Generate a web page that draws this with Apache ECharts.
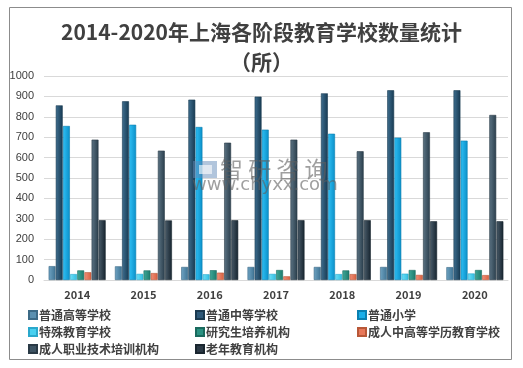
<!DOCTYPE html>
<html><head><meta charset="utf-8">
<script src="https://cdn.jsdelivr.net/npm/echarts@6/dist/echarts.min.js"></script>
<style>html,body{margin:0;padding:0;background:#fff}#c{width:523px;height:368px}</style>
</head><body><div id="c"></div>
<script>
var years = ['2014','2015','2016','2017','2018','2019','2020'];
var seriesNames = ['普通高等学校','普通中等学校','普通小学','特殊教育学校','研究生培养机构','成人中高等学历教育学校','成人职业技术培训机构','老年教育机构'];
var higherEdu   = [68, 67, 64, 64, 64, 64, 63];
var secondary   = [856, 876, 884, 899, 915, 930, 930];
var primary     = [755, 761, 750, 737, 717, 698, 683];
var special     = [29, 30, 28, 30, 29, 31, 32];
var graduate    = [47, 47, 48, 49, 47, 49, 49];
var adultDegree = [38, 34, 36, 18, 29, 25, 24];
var adultVoc    = [688, 634, 673, 688, 631, 724, 809];
var elderly     = [293, 292, 293, 293, 293, 288, 288];
var yTicks = [0,100,200,300,400,500,600,700,800,900,1000];

var allData = [higherEdu, secondary, primary, special, graduate, adultDegree, adultVoc, elderly];
var colors = [
  ['#6fa3c2','#3f7494'],
  ['#3f6f90','#173a52'],
  ['#2fc0f5','#0a8fc8'],
  ['#6ee0f8','#30bde0'],
  ['#3fa898','#1d7a6c'],
  ['#f0907a','#d8603f'],
  ['#5c7484','#2a3e4c'],
  ['#4a5c6a','#16242f']
];
var legendColors = ['#5a90b0','#2d5878','#1aaee8','#48d0f0','#2a9282','#e8785a','#3e5464','#2c3a46'];
var borders = ['#3c6a86','#1a3a50','#0a7fb0','#2aa8cc','#1a6a5e','#b85838','#2a3a46','#1a262f'];

var chart = echarts.init(document.getElementById('c'), null, {renderer:'canvas'});
var series = seriesNames.map(function(n,i){
  return {
    name:n, type:'bar', data: allData[i],
    barGap:'4%', barCategoryGap:'14%',
    itemStyle:{
      color:{type:'linear',x:0,y:0,x2:1,y2:0,colorStops:[{offset:0,color:colors[i][0]},{offset:1,color:colors[i][1]}]},
      borderColor:borders[i], borderWidth:0.6
    }
  };
});
function legendCol(idx, left){
  return {
    data: idx.map(function(i){return {name:seriesNames[i], itemStyle:{color:legendColors[i]}};}),
    orient:'vertical', left:left, top:304,
    itemWidth:8, itemHeight:8, itemGap:5,
    icon:'rect',
    textStyle:{fontSize:12, color:'#404040', fontWeight:'bold', fontFamily:'Noto Sans CJK SC', padding:[0,0,0,-3]}
  };
}
chart.setOption({
  animation:false,
  backgroundColor:'#fff',
  title:{
    text:'2014-2020年上海各阶段教育学校数量统计\n（所）',
    left:'center', top:12,
    textStyle:{fontSize:21, fontWeight:'bold', color:'#404040', lineHeight:30, fontFamily:'Noto Sans CJK SC'}
  },
  grid:{left:44, right:15, top:76, bottom:88},
  xAxis:{
    type:'category', data:years,
    axisLine:{lineStyle:{color:'#d9d9d9'}},
    axisTick:{show:false},
    axisLabel:{color:'#404040', fontSize:11, fontWeight:'bold', margin:9, fontFamily:'Noto Sans CJK SC'}
  },
  yAxis:{
    type:'value', min:yTicks[0], max:yTicks[yTicks.length-1], interval:100,
    axisLine:{show:false}, axisTick:{show:false},
    splitLine:{lineStyle:{color:'#d9d9d9'}},
    axisLabel:{color:'#404040', fontSize:11, margin:10, fontFamily:'Liberation Sans', formatter:function(v){return String(v);}}
  },
  legend:[legendCol([0,3,6],23), legendCol([1,4,7],190), legendCol([2,5],352)],
  graphic:[
    {type:'rect', left:7, top:5, shape:{width:502, height:352}, style:{fill:'none', stroke:'#8c8c8c', lineWidth:1}, z:-1},
    {type:'rect', left:193, top:161, shape:{width:24, height:17}, style:{fill:'rgba(100,140,185,0.5)'}, z:100},
    {type:'rect', left:199, top:165, shape:{width:13, height:9}, style:{fill:'rgba(255,255,255,0.6)'}, z:101},
    {type:'text', left:220, top:158, style:{text:'智 研 咨 询', fontSize:23, fill:'rgba(95,95,95,0.6)', fontFamily:'Noto Sans CJK SC'}, z:100},
    {type:'text', left:192, top:176, style:{text:'www.chyxx.com', fontSize:18, fill:'rgba(95,95,95,0.6)', fontFamily:'DejaVu Sans'}, z:100}
  ],
  series:series
});
</script></body></html>
